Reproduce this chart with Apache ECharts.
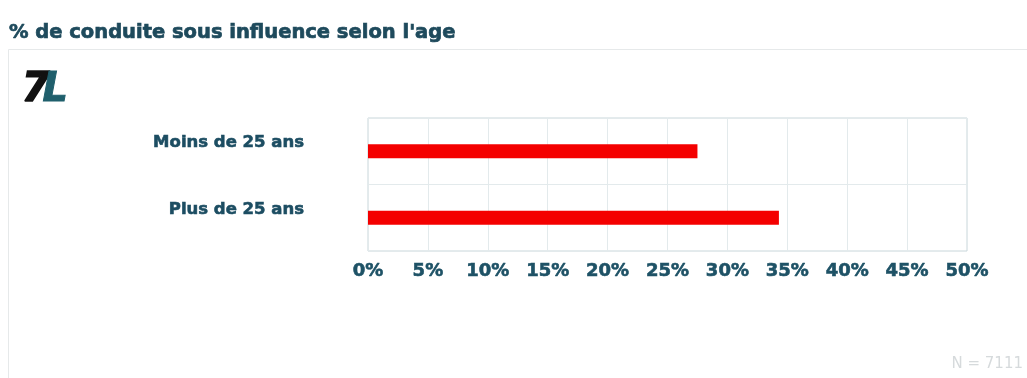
<!DOCTYPE html>
<html>
<head>
<meta charset="utf-8">
<script src="https://cdn.jsdelivr.net/npm/echarts@6/dist/echarts.min.js"></script>
<style>
html,body{margin:0;padding:0;background:#fff;}
#chart{width:1027px;height:378px;}
</style>
</head>
<body>
<div id="chart"></div>
<script>
const titleText = "% de conduite sous influence selon l'age";
const categories = ["Moins de 25 ans", "Plus de 25 ans"];
const values = [27.5, 34.3];
const xTicks = [0, 5, 10, 15, 20, 25, 30, 35, 40, 45, 50];
const footnote = "N = 7111";

const chart = echarts.init(document.getElementById('chart'), null, {renderer: 'canvas'});
const font = "'DejaVu Sans', Verdana, sans-serif";
chart.setOption({
  animation: false,
  backgroundColor: '#ffffff',
  title: {
    text: titleText,
    left: 4, top: 18,
    textStyle: {fontFamily: font, fontWeight: 'bold', fontSize: 19.5, color: '#1e4a5c', textBorderColor: '#1e4a5c', textBorderWidth: 0.7}
  },
  graphic: [
    {type: 'rect', shape: {x: 8.5, y: 49.5, width: 1030, height: 340}, style: {fill: 'none', stroke: '#e6e9ea', lineWidth: 1}, silent: true},
    {type: 'text', left: 21, top: 70, style: {text: '7', font: "italic bold 40px 'DejaVu Sans'", fill: '#111111', stroke: '#111111', lineWidth: 1.5}},
    {type: 'text', left: 42, top: 70, style: {text: 'L', font: "italic bold 40px 'DejaVu Sans'", fill: '#1f5f6c', stroke: '#1f5f6c', lineWidth: 1}},
    {type: 'text', right: 4, top: 357, style: {text: footnote, font: "15px 'DejaVu Sans'", fill: '#d6dadc'}}
  ],
  grid: {left: 368, right: 60, top: 118, bottom: 127, containLabel: false, show: true, borderColor: '#c9d6da', borderWidth: 1},
  xAxis: {
    type: 'value', min: 0, max: 50, interval: 5,
    axisLine: {show: false}, axisTick: {show: false},
    splitLine: {show: true, lineStyle: {color: '#e3eaec', width: 1}},
    axisLabel: {
      formatter: v => xTicks.indexOf(v) >= 0 ? v + '%' : '',
      margin: 11, fontFamily: font, fontWeight: 'bold', fontSize: 18, color: '#1e5266', textBorderColor: '#1e5266', textBorderWidth: 0.6
    }
  },
  yAxis: {
    type: 'category', data: categories, inverse: true,
    axisLine: {show: false}, axisTick: {show: false},
    splitLine: {show: true, lineStyle: {color: '#e3eaec'}},
    axisLabel: {margin: 64, fontFamily: font, fontWeight: 'bold', fontSize: 16.5, color: '#1c4d62', textBorderColor: '#1c4d62', textBorderWidth: 0.6, verticalAlign: 'bottom', padding: [0,0,0,0]}
  },
  series: [{
    type: 'bar', data: values, barWidth: 14,
    itemStyle: {color: '#f40000'}
  }]
});
</script>
</body>
</html>
